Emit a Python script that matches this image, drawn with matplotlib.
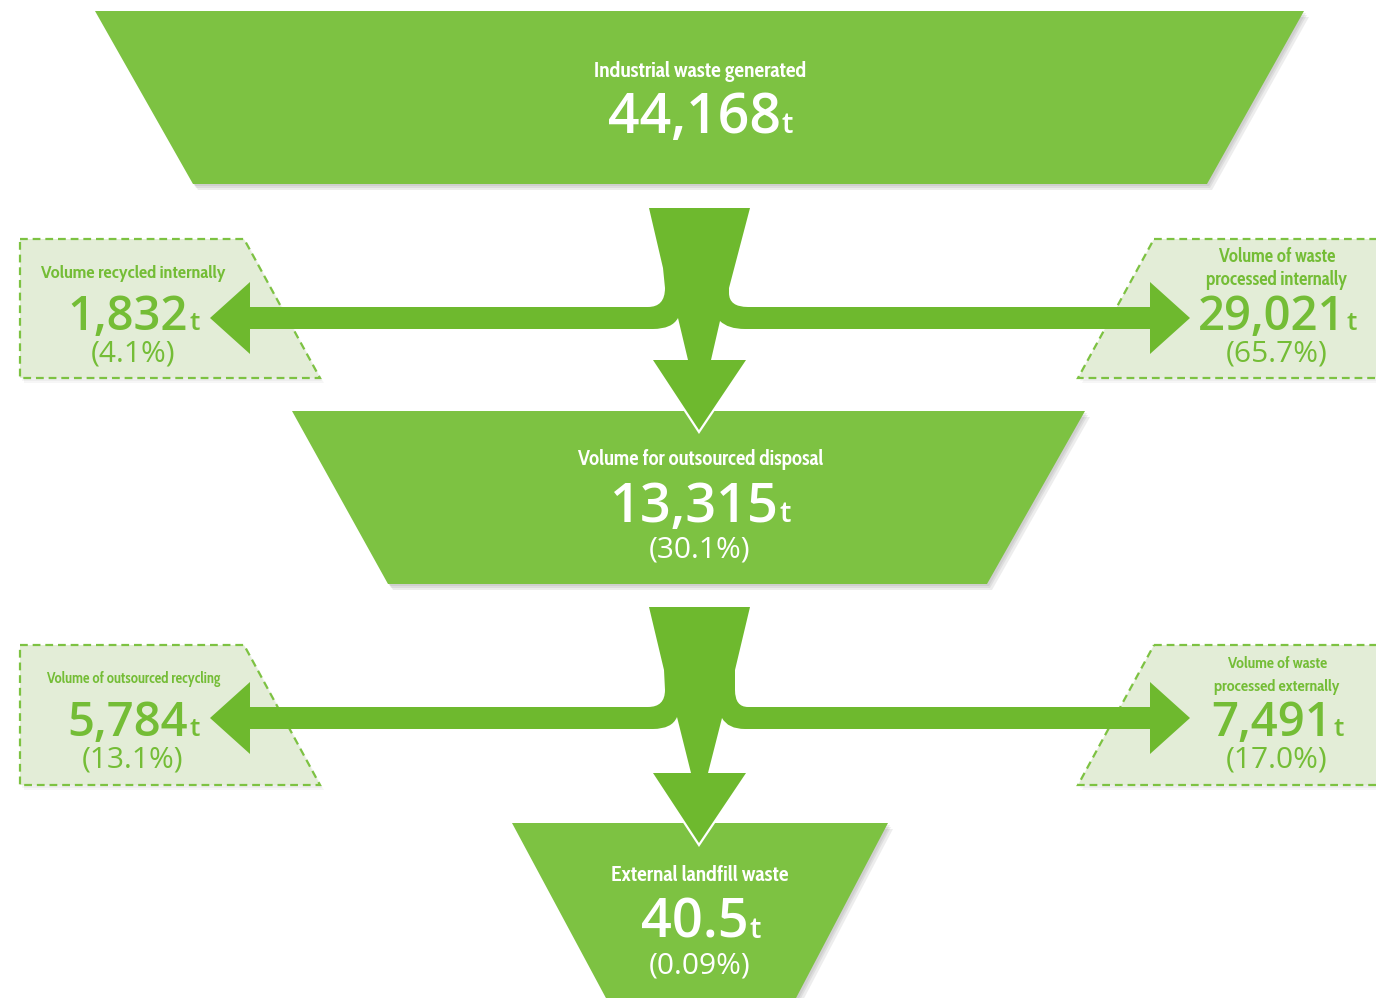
import matplotlib
matplotlib.use("Agg")
import matplotlib.pyplot as plt
from matplotlib.patches import Polygon, PathPatch
from matplotlib.path import Path
from matplotlib import font_manager

# ---------------- data ----------------
stage_labels = ["Industrial waste generated", "Volume for outsourced disposal", "External landfill waste"]
stage_values = ["44,168", "13,315", "40.5"]
stage_pcts = [None, "(30.1%)", "(0.09%)"]

side_left_labels = [["Volume recycled internally"], ["Volume of outsourced recycling"]]
side_left_values = ["1,832", "5,784"]
side_left_pcts = ["(4.1%)", "(13.1%)"]

side_right_labels = [["Volume of waste", "processed internally"], ["Volume of waste", "processed externally"]]
side_right_values = ["29,021", "7,491"]
side_right_pcts = ["(65.7%)", "(17.0%)"]

unit = "t"

# ---------------- style ----------------
TRAP = "#7DC242"
ARROW = "#6EB92E"
BOXFILL = "#E3EDD7"
BOXTEXT = "#74BD36"
W, H = 1376, 998

avail = {f.name for f in font_manager.fontManager.ttflist}
LABEL_FONT = [f for f in ["Cabin Condensed", "PT Sans Narrow", "Sofia Sans Condensed", "Roboto"] if f in avail][:1] + ["DejaVu Sans"]
NUM_FONT = ["Open Sans", "DejaVu Sans"]

fig = plt.figure(figsize=(W / 100, H / 100), dpi=100)
ax = fig.add_axes([0, 0, 1, 1])
ax.set_xlim(0, W)
ax.set_ylim(H, 0)
ax.axis("off")


def shadow(pts, z, alpha=0.10, offs=((2, 2), (3, 4), (5, 6))):
    for dx, dy in offs:
        ax.add_patch(Polygon([(x + dx, y + dy) for x, y in pts], closed=True,
                             facecolor="#555555", edgecolor="none", alpha=alpha, zorder=z))


# ---------------- trapezoids ----------------
traps = [
    [(95, 11), (1304, 11), (1207, 184), (193, 184)],
    [(292, 411), (1085, 411), (987, 584), (388, 584)],
    [(512, 823), (888, 823), (795, 1000), (607, 1000)],
]
for pts in traps:
    shadow(pts, 1)
    ax.add_patch(Polygon(pts, closed=True, facecolor=TRAP, edgecolor="none", zorder=2))

# ---------------- side boxes ----------------
boxes = [
    [(20, 239), (244, 239), (320, 378), (20, 378)],
    [(1154, 239), (1385, 239), (1385, 378), (1078, 378)],
    [(20, 645), (244, 645), (320, 785), (20, 785)],
    [(1154, 645), (1385, 645), (1385, 785), (1078, 785)],
]
for pts in boxes:
    shadow(pts, 1, alpha=0.05, offs=((2, 3), (4, 5)))
    ax.add_patch(Polygon(pts, closed=True, facecolor=BOXFILL, edgecolor=TRAP,
                         linewidth=1.6, linestyle=(0, (3.5, 2.2)), zorder=2, joinstyle="miter"))

# ---------------- arrows ----------------
M, L, C = Path.MOVETO, Path.LINETO, Path.CURVE3


def arrow_group(g):
    ft, bt, bb = g["ft"], g["bt"], g["bb"]
    bc = (bt + bb) / 2
    hb, tip = g["hb"], g["tip"]
    verts, codes = [], []

    def add(code, *pts):
        for p in pts:
            verts.append(p)
            codes.append(code)

    add(M, (649, ft))
    add(L, g["lk1"], g["lk2"])
    add(C, (g["lk2"][0], bt), (648, bt))
    add(L, (250, bt), (250, bc - 36), (210, bc), (250, bc + 36), (250, bb), (653, bb))
    add(C, (672, bb), g["sl_top"])
    add(L, g["sl_bot"], (653, hb), (699, tip), (746, hb), g["sr_bot"], g["sr_top"])
    add(C, (728, bb), (745, bb))
    add(L, (1150, bb), (1150, bc + 36), (1190, bc), (1150, bc - 36), (1150, bt), (748, bt))
    add(C, (g["rk2"][0], bt), g["rk2"])
    add(L, g["rk1"], (750, ft), (649, ft))
    codes[-1] = Path.CLOSEPOLY
    ax.add_patch(PathPatch(Path(verts, codes), facecolor=ARROW, edgecolor="none", zorder=5))
    ax.plot([653, 699, 746], [hb, tip, hb], color="white", lw=3.2, zorder=4,
            solid_joinstyle="miter", solid_capstyle="butt")


arrow_group(dict(ft=208, bt=307, bb=329, hb=360, tip=430,
                 lk1=(663, 268), lk2=(665, 288), rk1=(729, 288), rk2=(729, 293),
                 sl_top=(678, 318), sl_bot=(688, 360), sr_bot=(711, 360), sr_top=(720, 321)))
arrow_group(dict(ft=607, bt=707, bb=729, hb=773, tip=843,
                 lk1=(664, 670), lk2=(665, 690), rk1=(735, 670), rk2=(735, 690),
                 sl_top=(677, 717), sl_bot=(691, 773), sr_bot=(708, 773), sr_top=(722, 718)))

# ---------------- texts ----------------
pairs = []
fitted = []


def num_unit(x, y, num, size, usize, color):
    t1 = ax.text(x, y, num, ha="right", va="baseline", fontsize=size, color=color,
                 family=NUM_FONT, fontweight="semibold", zorder=10)
    t2 = ax.text(x, y, unit, ha="left", va="baseline", fontsize=usize, color=color,
                 family=NUM_FONT, fontweight="semibold", zorder=10)
    pairs.append((x, t1, t2))


def label(x, y, s, width, color):
    t = ax.text(x, y, s, ha="center", va="baseline", fontsize=14, color=color,
                family=LABEL_FONT, fontweight="bold", zorder=10)
    fitted.append((t, width))


def pct(x, y, s, size, color):
    ax.text(x, y, s, ha="center", va="baseline", fontsize=size, color=color,
            family=NUM_FONT, fontweight="medium", zorder=10)


# central stages
cx = [700, 700, 700]
label_y = [77, 465, 881]
label_w = [212, 247, 177]
num_y = [133, 522, 938]
pct_y = [None, 557, 973]
num_size = [40, 39, 39]
PCT_SIZE = 21.5
for i in range(3):
    label(cx[i], label_y[i], stage_labels[i], label_w[i], "white")
    num_unit(cx[i], num_y[i], stage_values[i], num_size[i], 21, "white")
    if stage_pcts[i]:
        pct(cx[i], pct_y[i], stage_pcts[i], PCT_SIZE, "white")

# side boxes
lx, rx = 133, 1277
left_label_y = [278, 683]
left_label_w = [185, 175]
num_side_y = [330, 736]
pct_side_y = [361, 767]
for i in range(2):
    label(lx, left_label_y[i], side_left_labels[i][0], left_label_w[i], BOXTEXT)
    num_unit(lx, num_side_y[i], side_left_values[i], 34, 19, BOXTEXT)
    pct(lx, pct_side_y[i], side_left_pcts[i], PCT_SIZE, BOXTEXT)

right_label_y = [[262, 285], [668, 691]]
right_label_w = [[117, 141], [100, 125]]
for i in range(2):
    for s, yy, ww in zip(side_right_labels[i], right_label_y[i], right_label_w[i]):
        label(rx, yy, s, ww, BOXTEXT)
    num_unit(rx, num_side_y[i], side_right_values[i], 34, 19, BOXTEXT)
    pct(rx, pct_side_y[i], side_right_pcts[i], PCT_SIZE, BOXTEXT)

# fit label widths, center number + unit combos
fig.canvas.draw()
r = fig.canvas.get_renderer()
for t, target in fitted:
    w = t.get_window_extent(r).width
    t.set_fontsize(14 * target / w)
for x, t1, t2 in pairs:
    w1 = t1.get_window_extent(r).width
    w2 = t2.get_window_extent(r).width
    left = x - (w1 + w2) / 2
    _, y = t1.get_position()
    t1.set_position((left + w1, y))
    t2.set_position((left + w1 + 1, y))

fig.savefig("out.png", dpi=100)
